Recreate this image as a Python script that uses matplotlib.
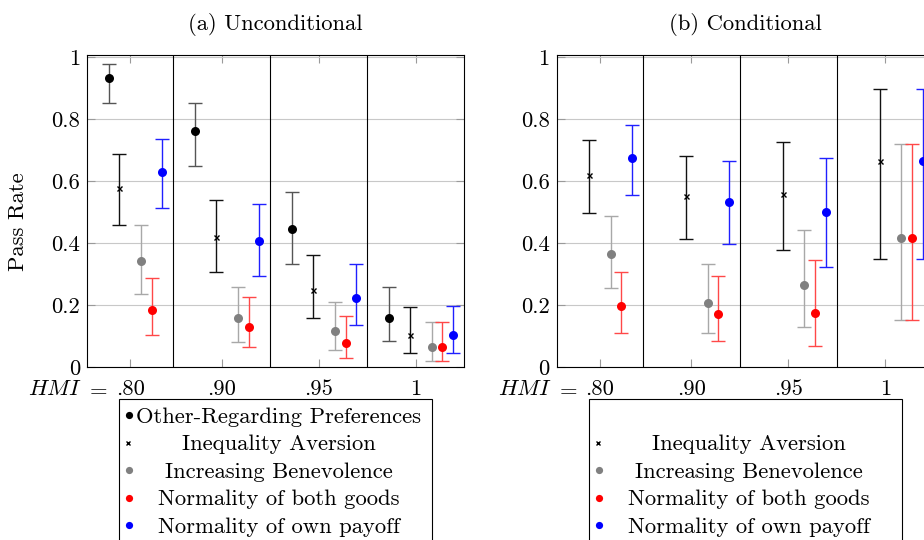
import matplotlib
matplotlib.use("Agg")
import matplotlib.pyplot as plt
from matplotlib.lines import Line2D
from matplotlib.patches import Rectangle
import numpy as np

plt.rcParams['font.family'] = ['cmr10', 'DejaVu Serif']
plt.rcParams['mathtext.fontset'] = 'cm'
plt.rcParams['axes.formatter.use_mathtext'] = True

# ---------------- data ----------------
groups = [".80", ".90", ".95", "1"]
series_names = ["Other-Regarding Preferences", "Inequality Aversion",
                "Increasing Benevolence", "Normality of both goods",
                "Normality of own payoff"]

# (a) Unconditional: value, lower, upper
unc_orp = [0.934, 0.762, 0.447, 0.158]
unc_orp_lo = [0.852, 0.650, 0.332, 0.084]
unc_orp_hi = [0.977, 0.854, 0.565, 0.259]
unc_ia = [0.579, 0.421, 0.250, 0.105]
unc_ia_lo = [0.459, 0.308, 0.158, 0.046]
unc_ia_hi = [0.689, 0.539, 0.362, 0.196]
unc_ib = [0.342, 0.158, 0.118, 0.065]
unc_ib_lo = [0.236, 0.083, 0.055, 0.021]
unc_ib_hi = [0.459, 0.259, 0.212, 0.146]
unc_nb = [0.184, 0.131, 0.079, 0.065]
unc_nb_lo = [0.104, 0.065, 0.029, 0.021]
unc_nb_hi = [0.289, 0.228, 0.164, 0.146]
unc_no = [0.631, 0.407, 0.224, 0.105]
unc_no_lo = [0.513, 0.296, 0.135, 0.046]
unc_no_hi = [0.738, 0.526, 0.333, 0.197]

# (b) Conditional
con_ia = [0.620, 0.552, 0.559, 0.666]
con_ia_lo = [0.497, 0.415, 0.378, 0.348]
con_ia_hi = [0.732, 0.681, 0.728, 0.899]
con_ib = [0.366, 0.206, 0.265, 0.416]
con_ib_lo = [0.255, 0.111, 0.129, 0.152]
con_ib_hi = [0.488, 0.332, 0.443, 0.721]
con_nb = [0.198, 0.172, 0.176, 0.416]
con_nb_lo = [0.112, 0.085, 0.069, 0.152]
con_nb_hi = [0.308, 0.294, 0.345, 0.721]
con_no = [0.675, 0.534, 0.500, 0.666]
con_no_lo = [0.555, 0.399, 0.324, 0.348]
con_no_hi = [0.782, 0.665, 0.675, 0.899]

# ---------------- styling ----------------
FS = 16.3
centers = np.arange(1, 5)
tick_pos = [1.055, 2, 3, 4]
orp_off = [-1.5 / 9, -2.5 / 9, -2.5 / 9, -2.5 / 9]
offsets = {"ia": -0.5 / 9, "ib": 1.5 / 9, "nb": 2.5 / 9, "no": 3.5 / 9}
styles = {
    "orp": dict(marker="o", color="black", ecolor="#555555", ms=6.5),
    "ia": dict(marker="x", color="black", ecolor="#111111", ms=3.6),
    "ib": dict(marker="o", color="#808080", ecolor="#a8a8a8", ms=6.5),
    "nb": dict(marker="o", color="#ff0000", ecolor="#ff4848", ms=6.5),
    "no": dict(marker="o", color="#0000ff", ecolor="#2020ff", ms=6.5),
}

W, H = 924, 540
fig = plt.figure(figsize=(W / 100, H / 100), dpi=100)

ax_w = 376.5 / W
ax_h = (367.3 - 54.5) / H
ax_b = 1 - 367.3 / H
axL = fig.add_axes([87 / W, ax_b, ax_w, ax_h])
axR = fig.add_axes([556.7 / W, ax_b, ax_w, ax_h])


def draw_series(ax, xs, v, lo, hi, key):
    st = styles[key]
    v = np.array(v); lo = np.array(lo); hi = np.array(hi)
    yerr = np.vstack([v - lo, hi - v])
    ax.errorbar(xs, v, yerr=yerr, fmt="none", ecolor=st["ecolor"],
                elinewidth=1.0, capsize=4.8, capthick=1.0, zorder=3)
    if st["marker"] == "x":
        ax.plot(xs, v, linestyle="none", marker="x", color=st["color"],
                ms=st["ms"], mew=1.0, zorder=4)
    else:
        ax.plot(xs, v, linestyle="none", marker="o", color=st["color"],
                ms=st["ms"], mew=0, zorder=4)


def setup(ax, title):
    ax.set_xlim(0.61, 4.495)
    ax.set_ylim(0, 1.009)
    ax.set_yticks([0, 0.2, 0.4, 0.6, 0.8, 1.0])
    ax.set_yticklabels(["0", "0.2", "0.4", "0.6", "0.8", "1"], fontsize=FS)
    ax.set_xticks(tick_pos)
    ax.set_xticklabels(groups, fontsize=FS)
    ax.tick_params(axis="both", direction="in", length=5.6, width=0.8,
                   color="#9a9a9a", top=True, right=True)
    ax.tick_params(axis="y", pad=5)
    ax.tick_params(axis="x", pad=19.8)
    for lab in ax.get_xticklabels():
        lab.set_verticalalignment("baseline")
    ax.grid(axis="y", color="#c8c8c8", linewidth=0.8, zorder=0)
    ax.set_axisbelow(True)
    for s in ax.spines.values():
        s.set_linewidth(0.8)
        s.set_color("black")
    for xv in [1.5, 2.5, 3.5]:
        ax.axvline(xv, color="black", linewidth=0.8, zorder=2)
    ax.set_title(title, fontsize=FS, pad=17.6)
    # "HMI =" prefix to the first tick label
    ax.annotate(r"$HMI$", xy=(tick_pos[0], 0), xycoords=("data", "axes fraction"),
                xytext=(-34.5, -19.8), textcoords="offset points",
                ha="right", va="baseline", fontsize=FS)
    ax.annotate(r"$=$", xy=(tick_pos[0], 0), xycoords=("data", "axes fraction"),
                xytext=(-15.4, -19.8), textcoords="offset points",
                ha="right", va="baseline", fontsize=FS)


setup(axL, "(a) Unconditional")
setup(axR, "(b) Conditional")

draw_series(axL, centers + np.array(orp_off), unc_orp, unc_orp_lo, unc_orp_hi, "orp")
draw_series(axL, centers + offsets["ia"], unc_ia, unc_ia_lo, unc_ia_hi, "ia")
draw_series(axL, centers + offsets["ib"], unc_ib, unc_ib_lo, unc_ib_hi, "ib")
draw_series(axL, centers + offsets["nb"], unc_nb, unc_nb_lo, unc_nb_hi, "nb")
draw_series(axL, centers + offsets["no"], unc_no, unc_no_lo, unc_no_hi, "no")

draw_series(axR, centers + offsets["ia"], con_ia, con_ia_lo, con_ia_hi, "ia")
draw_series(axR, centers + offsets["ib"], con_ib, con_ib_lo, con_ib_hi, "ib")
draw_series(axR, centers + offsets["nb"], con_nb, con_nb_lo, con_nb_hi, "nb")
draw_series(axR, centers + offsets["no"], con_no, con_no_lo, con_no_hi, "no")

fig.text(18.5 / W, 1 - 222 / H, "Pass Rate", rotation=90, fontsize=FS,
         ha="center", va="center")

# ---------------- legends (manual, boxes run off the bottom) ----------------
row_y = [415, 442.7, 470, 497.7, 525]
keys = ["orp", "ia", "ib", "nb", "no"]


def legend(left, include_orp):
    fig.add_artist(Rectangle((left / W, -0.2), 313.3 / W, 0.2 + 1 - 399.3 / H,
                             transform=fig.transFigure, fill=False,
                             edgecolor="black", linewidth=0.8, clip_on=False))
    for i, (k, name) in enumerate(zip(keys, series_names)):
        if k == "orp" and not include_orp:
            continue
        y = 1 - row_y[i] / H
        st = styles[k]
        if st["marker"] == "x":
            m = Line2D([(left + 9.4) / W], [y], marker="x", color="black",
                       ms=3.4, mew=1.0, linestyle="none", transform=fig.transFigure)
        else:
            m = Line2D([(left + 9.8) / W], [y], marker="o", color=st["color"],
                       ms=5.2, mew=0, linestyle="none", transform=fig.transFigure)
        fig.add_artist(m)
        fig.text((left + 160) / W, y, name, fontsize=FS, ha="center",
                 va="center_baseline")


legend(119, True)
legend(588.7, False)

fig.savefig("out.png", dpi=100)
